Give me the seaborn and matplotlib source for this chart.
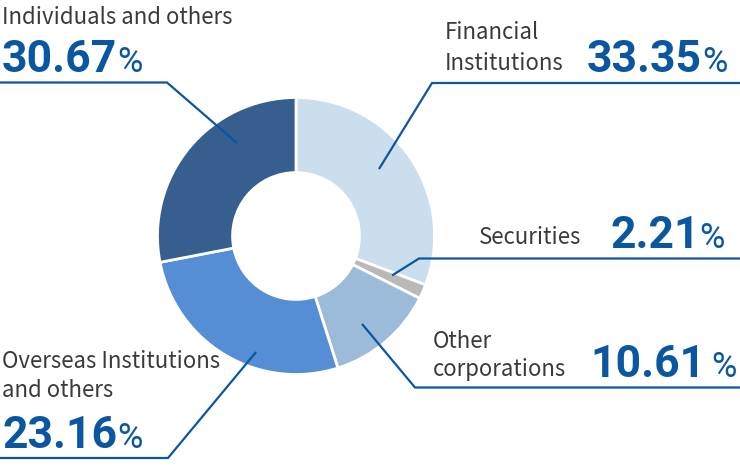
import matplotlib
matplotlib.use("Agg")
import matplotlib.pyplot as plt
import matplotlib.transforms as mtransforms
from matplotlib.lines import Line2D
import numpy as np
import seaborn as sns

# ---------------- data ----------------
categories = ["Financial Institutions", "Securities", "Other corporations",
              "Overseas Institutions and others", "Individuals and others"]
label_values = [33.35, 2.21, 10.61, 23.16, 30.67]          # printed percentages
slice_shares = [30.8, 1.7, 12.7, 26.9, 28.1]               # slice sizes as drawn
label_lines = [["Financial", "Institutions"], ["Securities"], ["Other", "corporations"],
               ["Overseas Institutions", "and others"], ["Individuals and others"]]
colors = ["#cbdeed", "#b9b9b9", "#9bbbd9", "#568ed6", "#365f8f"]

# ---------------- style ----------------
sns.set_theme(style="white")
plt.rcParams["font.family"] = ["Noto Sans CJK JP", "DejaVu Sans"]
W, H = 740, 466
fig = plt.figure(figsize=(W / 100, H / 100), dpi=100)
fig.patch.set_facecolor("white")

cx, cy, R = 296, 236, 138.5
ax = fig.add_axes([(cx - R) / W, (H - cy - R) / H, 2 * R / W, 2 * R / H])
wedges, _ = ax.pie(slice_shares, colors=colors, startangle=90, counterclock=False,
                   radius=1, wedgeprops=dict(width=1 - 0.458, edgecolor="white", linewidth=2))
ax.set_xlim(-1, 1)
ax.set_ylim(-1, 1)
ax.axis("off")

pix = mtransforms.Affine2D().scale(1 / W, -1 / H).translate(0, 1) + fig.transFigure

BLUE = "#0b56a0"
GREY = "#3a3a3a"

# layout per category: anchor (deg, r), polyline pixels, text positions
layout = [
    dict(anchor=(38.9, 0.77), path=[(432, 83), (740, 83)],
         lines=[(445, 39), (445, 70)], num=(587, 72), gap=0),
    dict(anchor=(-22.3, 0.75), path=[(419, 258.5), (740, 258.5)],
         lines=[(479, 244)], num=(610, 248), gap=0),
    dict(anchor=(-53.1, 0.794), path=[(415, 387.5), (740, 387.5)],
         lines=[(433, 348), (433, 376)], num=(590, 377), gap=6),
    dict(anchor=(251, 0.886), path=[(168, 458), (0, 458)],
         lines=[(2, 368), (2, 397)], num=(2, 448), gap=0),
    dict(anchor=(122.4, 0.795), path=[(167, 82.5), (0, 82.5)],
         lines=[(2, 24)], num=(2, 72), gap=0),
]

fig.canvas.draw()
num_texts = []
for cat, val, lines, lay in zip(categories, label_values, label_lines, layout):
    a, r = lay["anchor"]
    dx, dy = ax.transData.transform((r * np.cos(np.radians(a)), r * np.sin(np.radians(a))))
    ax_pt = (dx, H - dy)
    pts = [ax_pt] + lay["path"]
    xs = [p[0] for p in pts]
    ys = [p[1] for p in pts]
    fig.add_artist(Line2D(xs, ys, transform=pix, color=BLUE, lw=1.6,
                          solid_capstyle="butt", solid_joinstyle="miter"))
    for txt, (tx, ty) in zip(lines, lay["lines"]):
        fig.text(tx, ty, txt, transform=pix, fontsize=16, color=GREY,
                 ha="left", va="baseline")
    nx, ny = lay["num"]
    t = fig.text(nx, ny, f"{val:.2f}", transform=pix, fontsize=32, color=BLUE,
                 fontweight="bold", ha="left", va="baseline",
                 family=["Roboto", "DejaVu Sans"])
    num_texts.append((t, ny, lay["gap"]))

fig.canvas.draw()
renderer = fig.canvas.get_renderer()
for t, ny, gap in num_texts:
    bb = t.get_window_extent(renderer)
    fig.text(bb.x1 + gap, ny, "%", transform=pix, fontsize=25, color=BLUE,
             ha="left", va="baseline", family=["Roboto", "DejaVu Sans"])

fig.savefig("out.png", dpi=100, facecolor="white")
